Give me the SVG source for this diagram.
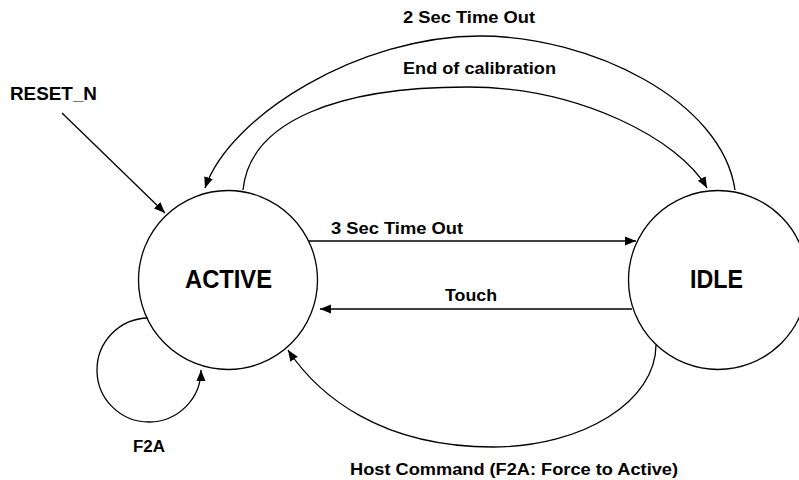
<svg xmlns="http://www.w3.org/2000/svg" width="799" height="480" viewBox="0 0 799 480">
<style>
.node{fill:#fff;stroke:#000;stroke-width:1.3}
.edge{fill:none;stroke:#000;stroke-width:1.3}
.arr{marker-end:url(#ah)}
text{font-family:"Liberation Sans",Arial,sans-serif;font-weight:bold;fill:#000}
.lbl{font-size:16px}
.big{font-size:25px}
</style>
<defs>
<marker id="ah" markerWidth="12" markerHeight="10" refX="11" refY="5" orient="auto" markerUnits="userSpaceOnUse">
<path d="M0,0.5 L11,5 L0,9.5 z" fill="#000"/>
</marker>
</defs>
<rect width="799" height="480" fill="#fff"/>
<g id="node-active">
<circle class="node" cx="228" cy="280" r="89.5"/>
<text class="big" x="185" y="288" textLength="87" lengthAdjust="spacingAndGlyphs">ACTIVE</text>
</g>
<g id="node-idle">
<circle class="node" cx="718" cy="280" r="89.5"/>
<text class="big" x="690" y="288" textLength="53" lengthAdjust="spacingAndGlyphs">IDLE</text>
</g>
<g id="connectors">
<path class="edge arr" d="M62,113 L165,213"/>
<path class="edge arr" d="M735,190 C722,100 590,36 480,36 C360,36 230,115 205,188"/>
<path class="edge arr" d="M243,190 C250,120 340,87 467,87 C580,87 680,140 707,188"/>
<path class="edge arr" d="M308,241 L636,241"/>
<path class="edge arr" d="M632,309 L320,309"/>
<path class="edge arr" d="M656,345 C656,401 583,447 493,447 C380,447 318,395 288,350"/>
<path class="edge arr" d="M148,318 A52,52 0 1 0 201,370"/>
</g>
<g id="labels">
<text x="10" y="100" style="font-size:19px" textLength="87" lengthAdjust="spacingAndGlyphs">RESET_N</text>
<text class="lbl" x="403" y="23" textLength="132" lengthAdjust="spacingAndGlyphs">2 Sec Time Out</text>
<text class="lbl" x="403" y="74" textLength="153" lengthAdjust="spacingAndGlyphs">End of calibration</text>
<text class="lbl" x="331" y="234" textLength="132" lengthAdjust="spacingAndGlyphs">3 Sec Time Out</text>
<text class="lbl" x="445" y="301" textLength="52" lengthAdjust="spacingAndGlyphs">Touch</text>
<text class="lbl" x="133" y="452" textLength="32" lengthAdjust="spacingAndGlyphs">F2A</text>
<text class="lbl" x="350" y="475" textLength="328" lengthAdjust="spacingAndGlyphs">Host Command (F2A: Force to Active)</text>
</g>
</svg>
